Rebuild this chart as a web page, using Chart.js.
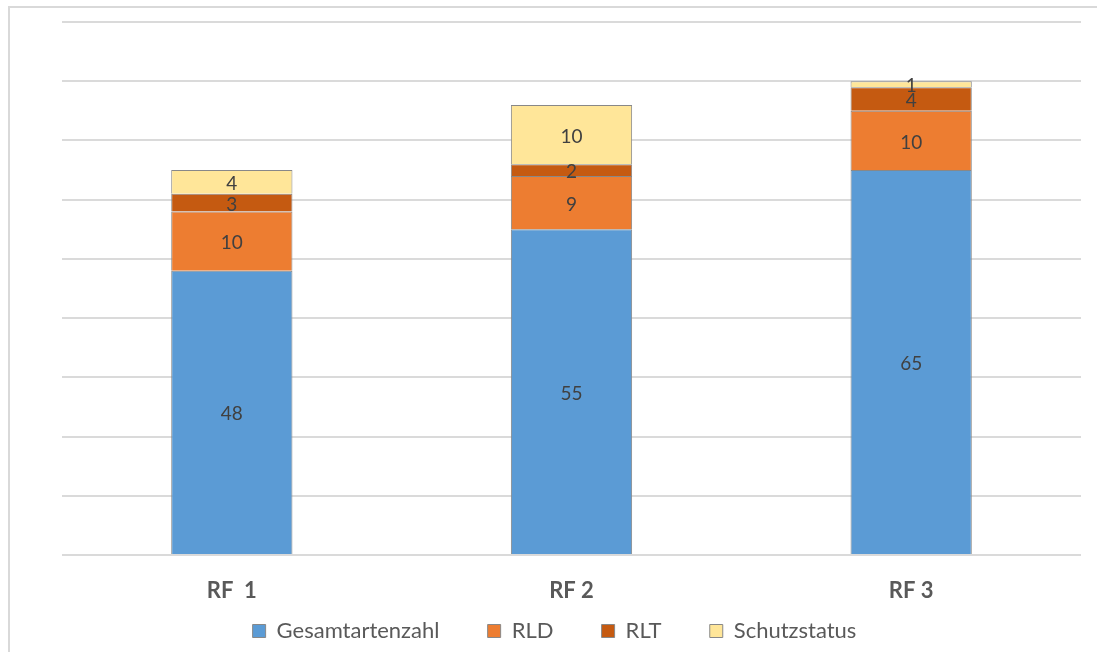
<!DOCTYPE html>
<html>
<head>
<meta charset="utf-8">
<title>RF Artenzahl</title>
<script src="https://cdn.jsdelivr.net/npm/chart.js@4/dist/chart.umd.min.js"></script>
<style>
  html, body { margin: 0; padding: 0; background: #fff; overflow: hidden; }
  canvas { display: block; }
</style>
</head>
<body>
<canvas id="chart" width="1097" height="652"></canvas>
<script>
// Werte
var categories = ["RF  1", "RF 2", "RF 3"];
var seriesNames = ["Gesamtartenzahl", "RLD", "RLT", "Schutzstatus"];
var gesamtartenzahl = [48, 55, 65];
var rld = [10, 9, 10];
var rlt = [3, 2, 4];
var schutzstatus = [4, 10, 1];
var yTicks = [0, 10, 20, 30, 40, 50, 60, 70, 80, 90];

const canvas = document.getElementById("chart");
const ctx = canvas.getContext("2d");
const edge = "#888888";
const gap = "     "; // Abstand zwischen den Legendeneintraegen

// Rahmen um das ganze Diagramm
const framePlugin = {
  id: "frame",
  beforeDraw(chart) {
    const c = chart.ctx;
    c.save();
    c.fillStyle = "#ffffff";
    c.fillRect(0, 0, chart.width, chart.height);
    c.fillStyle = "#d9d9d9";
    c.fillRect(8, 6, chart.width - 8, 2);
    c.fillRect(8, 6, 2, chart.height - 6);
    c.restore();
  }
};

// Zahlen in die Mitte der Balkenabschnitte schreiben
const valueLabels = {
  id: "valueLabels",
  afterDatasetsDraw(chart) {
    const c = chart.ctx;
    c.save();
    c.font = "19px Lato";
    c.fillStyle = "#404040";
    c.textAlign = "center";
    c.textBaseline = "middle";
    chart.data.datasets.forEach(function (ds, i) {
      const meta = chart.getDatasetMeta(i);
      meta.data.forEach(function (bar, j) {
        c.fillText(String(ds.data[j]), bar.x, (bar.y + bar.base) / 2 + 2);
      });
    });
    c.restore();
  }
};

new Chart(ctx, {
  type: "bar",
  data: {
    labels: categories,
    datasets: [
      { label: seriesNames[0], data: gesamtartenzahl, backgroundColor: "#5B9BD5", borderColor: edge, borderWidth: 1 },
      { label: seriesNames[1], data: rld, backgroundColor: "#ED7D31", borderColor: edge, borderWidth: 1 },
      { label: seriesNames[2], data: rlt, backgroundColor: "#C55A11", borderColor: edge, borderWidth: 1 },
      { label: seriesNames[3], data: schutzstatus, backgroundColor: "#FFE699", borderColor: edge, borderWidth: 1 }
    ]
  },
  options: {
    responsive: false,
    animation: false,
    layout: { padding: { left: 28, right: 16, top: 22, bottom: 0 } },
    datasets: { bar: { barPercentage: 1, categoryPercentage: 0.357 } },
    plugins: {
      tooltip: { enabled: false },
      legend: {
        position: "bottom",
        labels: {
          font: { family: "Lato", size: 22 },
          color: "#595959",
          boxWidth: 13,
          boxHeight: 13,
          padding: 20,
          generateLabels(chart) {
            const items = Chart.defaults.plugins.legend.labels.generateLabels(chart);
            items.forEach(function (it, i) {
              if (i < items.length - 1) it.text = it.text + gap;
            });
            return items;
          }
        }
      }
    },
    scales: {
      x: {
        stacked: true,
        grid: { display: false, drawTicks: false },
        border: { display: false },
        ticks: {
          font: { family: "Lato", size: 22, weight: "bold" },
          color: "#595959",
          padding: 23
        },
        afterFit(s) { s.height = 45; }
      },
      y: {
        stacked: true,
        min: yTicks[0],
        max: yTicks[yTicks.length - 1],
        afterBuildTicks(s) { s.ticks = yTicks.map(function (v) { return { value: v }; }); },
        ticks: { display: false },
        grid: { color: "#dadada", lineWidth: 2, drawTicks: false },
        border: { display: false },
        afterFit(s) { s.width = 34; }
      }
    }
  },
  plugins: [framePlugin, valueLabels]
});
</script>
</body>
</html>
